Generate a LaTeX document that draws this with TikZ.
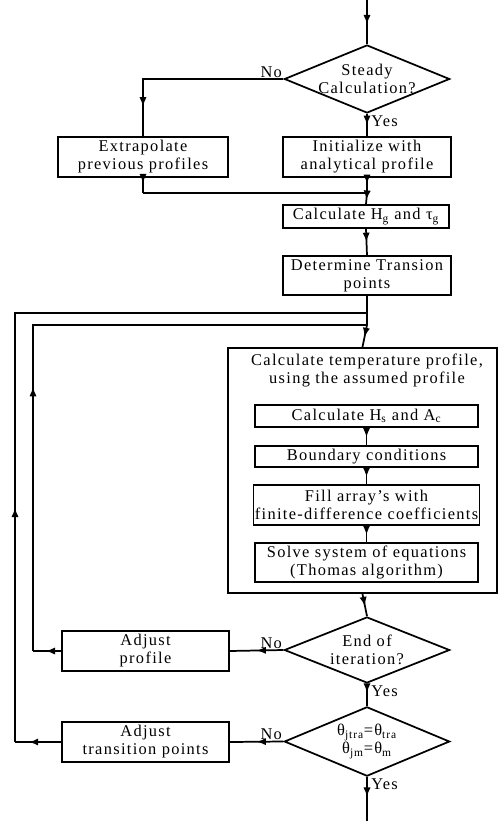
\documentclass[tikz,border=0pt]{standalone}
\usepackage{fontspec}
\setmainfont[LetterSpace=8]{Liberation Serif}
\usetikzlibrary{shapes.geometric,arrows.meta,decorations.markings}
\tikzset{
  box/.style={draw,line width=1.3pt,rectangle,inner sep=1pt,align=center,font=\fontsize{12.3}{13.5}\selectfont},
  dia/.style={draw,line width=1.3pt,diamond,inner sep=0pt},
  txt/.style={align=center,inner sep=0pt,font=\fontsize{12.3}{13.5}\selectfont},
  lbl/.style={inner sep=0pt,font=\fontsize{12.3}{13.5}\selectfont},
  conn/.style={line width=1.3pt},
  tipat/.style={conn,postaction={decorate},decoration={markings,mark=at position #1 with {\arrow{Latex[length=7pt,width=5.5pt]}}}},
}
\begin{document}
\begin{tikzpicture}[x=0.75pt,y=-0.75pt]
\useasboundingbox (0,0) rectangle (500,821);
% nodes
\coordinate (start) at (367,0);
\node[dia,minimum width=124pt,minimum height=51pt] (d1) at (367,79) {};
\node[txt] (d1t) at (367,79) {Steady\\Calculation?};
\node[box,minimum width=127.5pt,minimum height=30pt] (ext) at (143,157) {Extrapolate\\previous profiles};
\node[box,minimum width=126pt,minimum height=30pt] (init) at (367,157) {Initialize with\\analytical profile};
\coordinate (merge) at (367,193);
\coordinate (extc) at (143,193);
\node[box,minimum width=124pt,minimum height=17pt] (calcg) at (366,216.5) {Calculate H\textsubscript{g} and τ\textsubscript{g}};
\node[box,minimum width=126pt,minimum height=29pt] (det) at (367,275.5) {Determine Transion\\points};
\coordinate (jo) at (367,313);
\coordinate (ji) at (367,325);
\node[draw,line width=1.3pt,minimum width=202pt,minimum height=184pt,inner sep=0pt] (big) at (362.5,470.5) {};
\node[txt] (bigt) at (367,370) {Calculate temperature profile,\\using the assumed profile};
\node[box,minimum width=167pt,minimum height=16.5pt] (calcs) at (366.5,416) {Calculate H\textsubscript{s} and A\textsubscript{c}};
\node[box,minimum width=167pt,minimum height=16pt] (bound) at (366.5,456.5) {Boundary conditions};
\node[box,minimum width=167pt,minimum height=30pt] (fill) at (366.5,505) {Fill array’s with\\finite-difference coefficients};
\node[box,minimum width=167pt,minimum height=29pt] (solve) at (366.5,562.5) {Solve system of equations\\(Thomas algorithm)};
\node[dia,minimum width=124pt,minimum height=49.5pt] (d2) at (367,650) {};
\node[txt] (d2t) at (367,650) {End of\\iteration?};
\node[box,minimum width=125pt,minimum height=30pt] (adjp) at (145.5,651) {Adjust\\profile};
\node[dia,minimum width=124pt,minimum height=52pt] (d3) at (367,741.5) {};
\node[txt] (d3t) at (367,741.5) {θ\textsubscript{jtra}=θ\textsubscript{tra}\\θ\textsubscript{jm}=θ\textsubscript{m}};
\node[box,minimum width=125pt,minimum height=30pt] (adjt) at (145.5,742) {Adjust\\transition points};
\coordinate (end) at (367,821);
\coordinate (pi) at (33,651);
\coordinate (po) at (15,742);
% labels
\node[lbl,anchor=south east] (no1) at ([xshift=-1pt,yshift=1pt]d1.west) {No};
\node[lbl,anchor=north west] (yes1) at ([xshift=3pt,yshift=-1pt]d1.south) {Yes};
\node[lbl,anchor=south east] (no2) at ([xshift=-1pt,yshift=1pt]d2.west) {No};
\node[lbl,anchor=north west] (yes2) at ([xshift=3pt,yshift=-1pt]d2.south) {Yes};
\node[lbl,anchor=south east] (no3) at ([xshift=-1pt,yshift=1pt]d3.west) {No};
\node[lbl,anchor=north west] (yes3) at ([xshift=3pt,yshift=-1pt]d3.south) {Yes};
% connectors
\draw[tipat=0.55] (start) -- (d1.north);
\draw[tipat=0.85] (d1.west) -| (ext.north);
\draw[tipat=0.5] (d1.south) -- (init.north);
\draw[tipat=0.35] (ext.south) -- (extc);
\draw[conn] (extc) -- (merge);
\draw[tipat=0.4] (init.south) -- (merge);
\draw[tipat=0.6] (merge) -- (calcg.north);
\draw[tipat=0.5] (calcg.south) -- (det.north);
\draw[conn] (det.south) -- (ji);
\draw[tipat=0.55] (ji) -- (big.north);
\draw[tipat=0.55] (calcs.south) -- (bound.north);
\draw[tipat=0.55] (bound.south) -- (fill.north);
\draw[tipat=0.55] (fill.south) -- (solve.north);
\draw[tipat=0.55] (big.south) -- (d2.north);
\draw[tipat=0.5] (d2.west) -- (adjp.east);
\draw[tipat=0.55] (adjp.west) -- (pi);
\draw[tipat=0.4] (pi) |- (ji);
\draw[tipat=0.4] (d2.south) -- (d3.north);
\draw[tipat=0.5] (d3.west) -- (adjt.east);
\draw[tipat=0.7] (adjt.west) -- (po);
\draw[tipat=0.3] (po) |- (jo);
\draw[tipat=0.45] (d3.south) -- (end);
\end{tikzpicture}
\end{document}
